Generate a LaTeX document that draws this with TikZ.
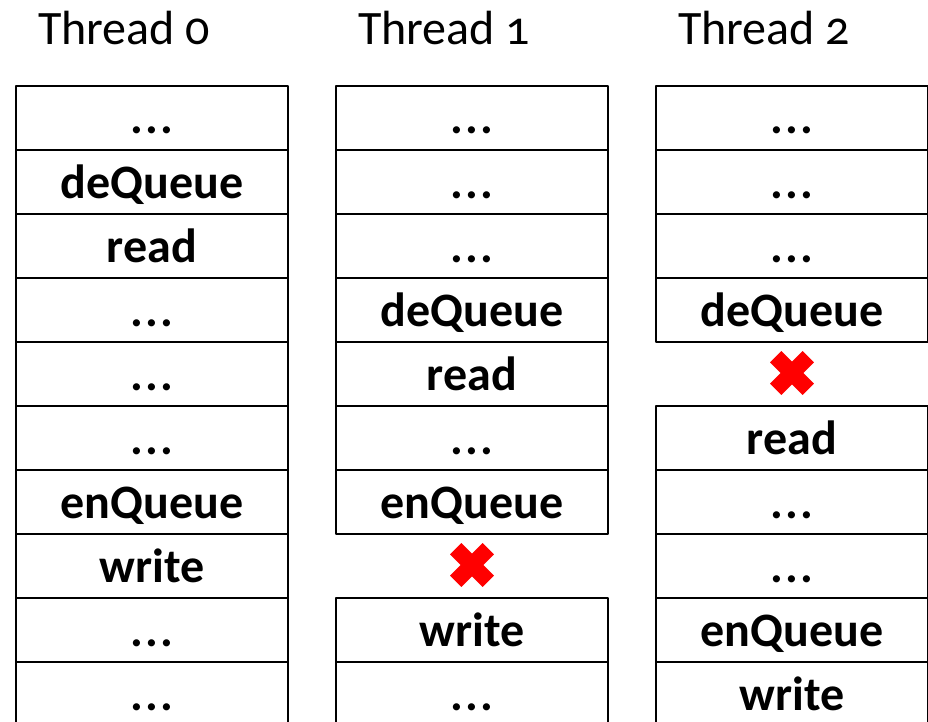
\documentclass[tikz,border=0pt]{standalone}
\usepackage{fontspec}
\setmainfont{Carlito}[Numbers=OldStyle]
\usetikzlibrary{calc}
% three spaced periods for the elided steps
\newcommand{\stepdots}{.\kern2.5pt.\kern2.5pt.}
\begin{document}
\begin{tikzpicture}[x=1pt,y=-1pt,
  cell/.style={draw, line width=2pt, line join=round, anchor=north,
    minimum width=272pt, minimum height=64pt, inner sep=0pt,
    text height=36pt, text depth=4pt,
    font=\bfseries\fontsize{48}{56}\selectfont},
  head/.style={anchor=base west, inner sep=0pt,
    font=\fontsize{48}{56}\selectfont},
  xmark/.style={red, line width=16pt, line cap=butt}]
\useasboundingbox (0,0) rectangle (928,722);
\clip (0,0) rectangle (928,722);

% thread headers
\node[head] (h0) at (38,45) {Thread 0};
\node[head] (h1) at (358,45) {Thread 1};
\node[head] (h2) at (678,45) {Thread 2};

% thread 0 stack
\foreach \r/\t in {1/\stepdots,2/deQueue,3/read,4/\stepdots,5/\stepdots,6/\stepdots,7/enQueue,8/write,9/\stepdots,10/\stepdots}
  \node[cell] (a\r) at (152,{85+64*(\r-1)}) {\t};

% thread 1 stack (row 8 is the failed step)
\foreach \r/\t in {1/\stepdots,2/\stepdots,3/\stepdots,4/deQueue,5/read,6/\stepdots,7/enQueue,9/write,10/\stepdots}
  \node[cell] (b\r) at (472,{85+64*(\r-1)}) {\t};

% thread 2 stack (row 5 is the failed step)
\foreach \r/\t in {1/\stepdots,2/\stepdots,3/\stepdots,4/deQueue,6/read,7/\stepdots,8/\stepdots,9/enQueue,10/write}
  \node[cell] (c\r) at (792,{85+64*(\r-1)}) {\t};

% failure marks
\coordinate (x1) at (472,565);
\coordinate (x2) at (792,373);
\foreach \m in {x1,x2} {
  \draw[xmark] ($(\m)+(-16.3,-16.3)$) -- ($(\m)+(16.3,16.3)$);
  \draw[xmark] ($(\m)+(-16.3,16.3)$) -- ($(\m)+(16.3,-16.3)$);
}
\end{tikzpicture}
\end{document}
